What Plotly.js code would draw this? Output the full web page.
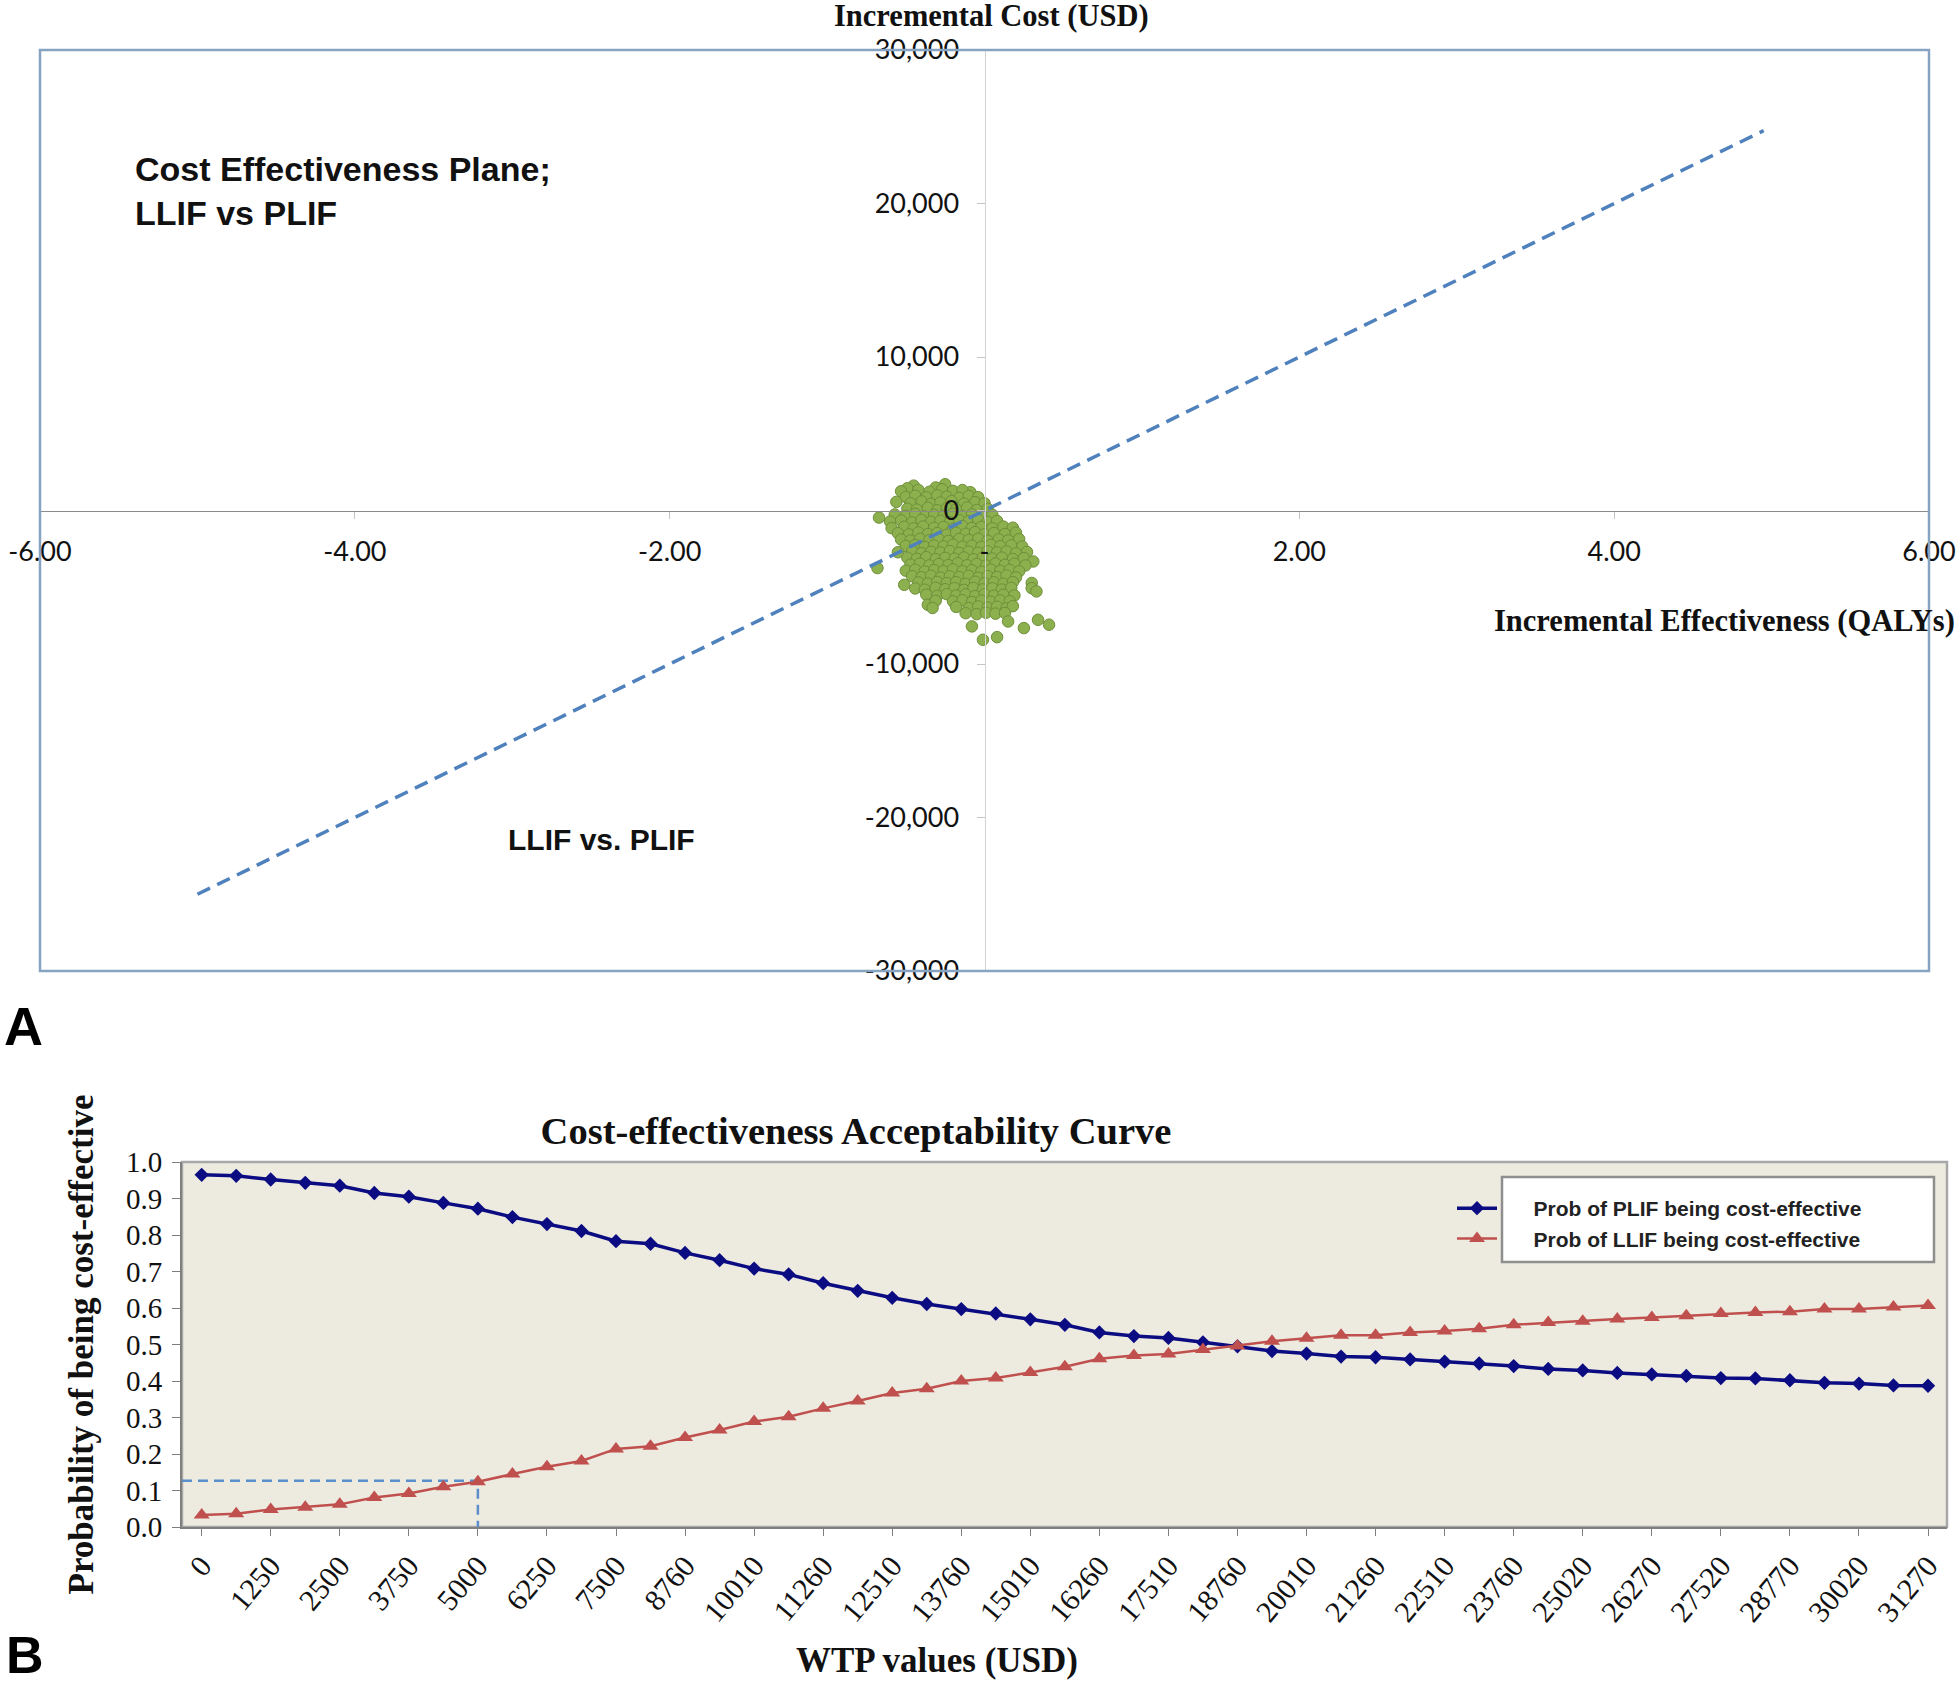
<!DOCTYPE html>
<html>
<head>
<meta charset="utf-8">
<script src="https://cdn.plot.ly/plotly-3.0.1.min.js"></script>
<style>
  html, body { margin: 0; padding: 0; background: #ffffff; }
  #chart { width: 1960px; height: 1688px; }
</style>
</head>
<body>
<div id="chart"></div>
<script>
// ---------------- Panel A: cost-effectiveness plane (PSA simulations) ----------------
const psaDeltaQaly = [
  -0.25, -0.45, -0.49, -0.31,
  -0.53, -0.42, -0.35, -0.27, -0.20, -0.09, -0.14,
  -0.50, -0.44, -0.37, -0.30, -0.24, -0.16, -0.10, -0.04,
  -0.56, -0.47, -0.40, -0.34, -0.28, -0.21, -0.13, -0.06, 0.00,
  -0.49, -0.43, -0.36, -0.30, -0.24, -0.18, -0.11, -0.05, 0.02,
  -0.67, -0.57, -0.50, -0.44, -0.38, -0.32, -0.26, -0.20, -0.14, -0.08, -0.02, 0.05,
  -0.60, -0.53, -0.46, -0.40, -0.34, -0.28, -0.22, -0.16, -0.10, -0.04, 0.02, 0.08,
  -0.59, -0.51, -0.45, -0.39, -0.32, -0.26, -0.20, -0.14, -0.08, -0.02, 0.05, 0.12, 0.18,
  -0.55, -0.48, -0.42, -0.36, -0.30, -0.24, -0.18, -0.12, -0.06, 0.00, 0.06, 0.13, 0.20,
  -0.53, -0.47, -0.41, -0.35, -0.29, -0.23, -0.16, -0.10, -0.04, 0.02, 0.09, 0.15, 0.22,
  -0.50, -0.44, -0.38, -0.32, -0.26, -0.20, -0.14, -0.08, -0.02, 0.04, 0.10, 0.17, 0.24,
  -0.55, -0.46, -0.40, -0.34, -0.28, -0.22, -0.16, -0.10, -0.04, 0.02, 0.08, 0.14, 0.20, 0.27,
  -0.49, -0.43, -0.37, -0.31, -0.25, -0.19, -0.13, -0.07, -0.01, 0.05, 0.11, 0.18, 0.25, 0.31,
  -0.68, -0.47, -0.41, -0.35, -0.29, -0.23, -0.17, -0.11, -0.05, 0.01, 0.07, 0.13, 0.19, 0.26,
  -0.50, -0.44, -0.38, -0.32, -0.26, -0.20, -0.14, -0.08, -0.02, 0.04, 0.10, 0.16, 0.22,
  -0.46, -0.40, -0.34, -0.28, -0.22, -0.16, -0.10, -0.04, 0.02, 0.08, 0.14, 0.20,
  -0.51, -0.42, -0.36, -0.30, -0.24, -0.18, -0.12, -0.06, 0.00, 0.06, 0.12, 0.18, 0.30,
  -0.44, -0.38, -0.31, -0.25, -0.19, -0.13, -0.07, -0.01, 0.05, 0.11, 0.17, 0.30, 0.33,
  -0.37, -0.30, -0.24, -0.18, -0.12, -0.06, 0.00, 0.06, 0.12, 0.19,
  -0.36, -0.31, -0.20, -0.14, -0.08, -0.02, 0.04, 0.10, 0.16,
  -0.33, -0.18, -0.10, -0.04, 0.02, 0.08, 0.14, 0.18,
  -0.12, -0.05, 0.01, 0.07, 0.13,
  -0.08, 0.15, 0.25, 0.34, 0.41, -0.01, 0.08
];
const psaDeltaCost = [
  1710, 1620, 1450, 1500,
  1250, 1340, 1220, 1380, 1280, 1190, 1330,
  880, 960, 850, 990, 900, 820, 940, 870,
  560, 470, 590, 430, 520, 610, 450, 540, 470,
  120, 60, 180, 20, 140, 70, 190, 30, 110,
  -460, -260, -350, -220, -390, -280, -340, -210, -380, -250, -330, -280,
  -720, -650, -780, -620, -730, -670, -760, -640, -700, -610, -750, -680,
  -1150, -1060, -1170, -1040, -1130, -1080, -1190, -1020, -1140, -1070, -1160, -1050, -1120,
  -1480, -1560, -1430, -1540, -1470, -1580, -1450, -1520, -1410, -1550, -1470, -1530, -1440,
  -1890, -1960, -1850, -1930, -1870, -1990, -1860, -1920, -1840, -1970, -1880, -1950, -1860,
  -2310, -2250, -2370, -2280, -2340, -2230, -2360, -2290, -2380, -2240, -2330, -2270, -2350,
  -2720, -2650, -2780, -2690, -2740, -2640, -2770, -2680, -2750, -2660, -2730, -2670, -2790, -2700,
  -3080, -3150, -3040, -3170, -3090, -3140, -3060, -3180, -3050, -3130, -3070, -3160, -3100, -3320,
  -3750, -3520, -3460, -3580, -3490, -3560, -3440, -3570, -3480, -3590, -3450, -3540, -3470, -3580,
  -3920, -3860, -3970, -3880, -3950, -3840, -3960, -3890, -3990, -3850, -3930, -3870, -3960,
  -4280, -4350, -4250, -4370, -4290, -4340, -4260, -4380, -4270, -4330, -4240, -4360,
  -4840, -4690, -4760, -4650, -4730, -4670, -4780, -4640, -4750, -4680, -4770, -4660, -4720,
  -5080, -5160, -5040, -5130, -5060, -5170, -5050, -5140, -5070, -5150, -5040, -5060, -5270,
  -5480, -5560, -5450, -5540, -5470, -5580, -5460, -5550, -5490, -5530,
  -6140, -5880, -5920, -5850, -5960, -5870, -5940, -5860, -5910,
  -6350, -6280, -6360, -6250, -6330, -6270, -6380, -6230,
  -6690, -6750, -6660, -6720, -6680,
  -7550, -7230, -7660, -7120, -7440, -8420, -8250
];
// Willingness-to-pay threshold line on the plane
const thresholdLineQaly = [-5.0, 4.95];
const thresholdLineCost = [-25000, 24750];

const planeXTickVals = [-6, -4, -2, 0, 2, 4, 6];
const planeXTickText = ['-6.00', '-4.00', '-2.00', '-', '2.00', '4.00', '6.00'];
const planeYTickVals = [-30000, -20000, -10000, 0, 10000, 20000, 30000];
const planeYTickText = ['-30,000', '-20,000', '-10,000', '0', '10,000', '20,000', '30,000'];

// ---------------- Panel B: cost-effectiveness acceptability curve ----------------
const wtpValues = [
  '0', '625', '1250', '1875', '2500', '3125', '3750', '4375', '5000', '5625',
  '6250', '6875', '7500', '8130', '8760', '9385', '10010', '10635', '11260', '11885',
  '12510', '13135', '13760', '14385', '15010', '15635', '16260', '16885', '17510', '18135',
  '18760', '19385', '20010', '20635', '21260', '21885', '22510', '23135', '23760', '24390',
  '25020', '25645', '26270', '26895', '27520', '28145', '28770', '29395', '30020', '30645',
  '31270'
];
const plifProb = [
  0.965, 0.962, 0.952, 0.943, 0.935, 0.915, 0.905, 0.888, 0.872, 0.849,
  0.830, 0.811, 0.783, 0.776, 0.751, 0.731, 0.708, 0.692, 0.668, 0.647,
  0.628, 0.611, 0.597, 0.585, 0.569, 0.554, 0.533, 0.523, 0.518, 0.506,
  0.495, 0.482, 0.475, 0.467, 0.465, 0.459, 0.453, 0.448, 0.441, 0.433,
  0.429, 0.422, 0.418, 0.414, 0.408, 0.407, 0.402, 0.395, 0.393, 0.388,
  0.387
];
const llifProb = [
  0.033, 0.036, 0.048, 0.054, 0.062, 0.081, 0.092, 0.110, 0.124, 0.145,
  0.165, 0.181, 0.214, 0.221, 0.245, 0.266, 0.289, 0.302, 0.325, 0.345,
  0.367, 0.379, 0.400, 0.408, 0.423, 0.439, 0.461, 0.470, 0.474, 0.486,
  0.496, 0.509, 0.517, 0.525, 0.525, 0.533, 0.537, 0.543, 0.554, 0.560,
  0.564, 0.570, 0.574, 0.579, 0.585, 0.588, 0.590, 0.597, 0.597, 0.603,
  0.607
];
const seriesNames = ['Prob of PLIF being cost-effective', 'Prob of LLIF being cost-effective'];
const thresholdWtp = '5000';
const thresholdProb = 0.127;

// ---------------- geometry helpers ----------------
const W = 1960, H = 1688;
const fx = p => p / W;
const fy = p => 1 - p / H;

const aX = [fx(40), fx(1929)];
const aY = [fy(971), fy(50)];
const aXRange = [-6, 6];
const aYRange = [-30000, 30000];
const aXPos = aX[0] + (0 - aXRange[0]) / (aXRange[1] - aXRange[0]) * (aX[1] - aX[0]);
const aYPos = aY[0] + (0 - aYRange[0]) / (aYRange[1] - aYRange[0]) * (aY[1] - aY[0]);

const bX = [fx(182), fx(1947)];
const bY = [fy(1527), fy(1162)];
const idx = wtpValues.map((_, i) => i);
const bTickVals = idx.filter(i => i % 2 === 0);
const bTickText = bTickVals.map(i => wtpValues[i]);
const bXRange = [-0.57, 50.55];
const thrIdx = wtpValues.indexOf(thresholdWtp);

const serif = 'Liberation Serif, Times New Roman, serif';
const sans = 'Liberation Sans, Arial, sans-serif';
const calib = 'Lato, Open Sans, sans-serif';
const legendPad = '\u2003\u2002';

const traces = [
  {
    type: 'scatter', mode: 'markers', x: psaDeltaQaly, y: psaDeltaCost,
    xaxis: 'x', yaxis: 'y', showlegend: false, hoverinfo: 'skip',
    marker: { symbol: 'circle', size: 11.5, color: '#8DB04E', line: { color: '#6E8F3A', width: 1 } }
  },
  {
    type: 'scatter', mode: 'lines', x: thresholdLineQaly, y: thresholdLineCost,
    xaxis: 'x', yaxis: 'y', showlegend: false, hoverinfo: 'skip',
    line: { color: '#4F81BD', width: 3.5, dash: '14px,8px' }
  },
  {
    type: 'scatter', mode: 'lines', x: [bXRange[0], thrIdx, thrIdx], y: [thresholdProb, thresholdProb, 0],
    xaxis: 'x2', yaxis: 'y2', showlegend: false, hoverinfo: 'skip',
    line: { color: '#5B8FCB', width: 2.5, dash: '10px,6px' }
  },
  {
    type: 'scatter', mode: 'lines+markers', name: legendPad + seriesNames[0], x: idx, y: plifProb,
    xaxis: 'x2', yaxis: 'y2',
    line: { color: '#0C0C82', width: 3.5 },
    marker: { symbol: 'diamond', size: 11, color: '#0C0C82' }
  },
  {
    type: 'scatter', mode: 'lines+markers', name: legendPad + seriesNames[1], x: idx, y: llifProb,
    xaxis: 'x2', yaxis: 'y2',
    line: { color: '#C0504D', width: 2.5 },
    marker: { symbol: 'triangle-up', size: 14, color: '#C0504D' }
  }
];

const layout = {
  width: W, height: H, autosize: false,
  margin: { l: 0, r: 0, t: 0, b: 0, pad: 0 },
  paper_bgcolor: '#ffffff',
  plot_bgcolor: 'rgba(0,0,0,0)',
  showlegend: true,
  title: {
    text: 'Cost-effectiveness Acceptability Curve',
    x: fx(856), y: fy(1131), xref: 'paper', yref: 'paper',
    xanchor: 'center', yanchor: 'middle',
    font: { family: serif, size: 38.5, weight: 'bold', color: '#111111' }
  },
  xaxis: {
    domain: aX, range: aXRange, anchor: 'free', position: aYPos,
    showgrid: false, zeroline: false, showline: true, linecolor: '#8A8A8A', linewidth: 1.5,
    tickmode: 'array', tickvals: planeXTickVals, ticktext: planeXTickText,
    ticks: 'outside', ticklen: 7, tickcolor: '#C4C4C4', ticklabelstandoff: 10,
    tickfont: { family: calib, size: 27, color: '#111111' }, fixedrange: true
  },
  yaxis: {
    domain: aY, range: aYRange, anchor: 'free', position: aXPos,
    showgrid: false, zeroline: false, showline: true, linecolor: '#D2D2D2', linewidth: 1.5,
    tickmode: 'array', tickvals: planeYTickVals, ticktext: planeYTickText,
    ticks: 'outside', ticklen: 8, tickcolor: '#C4C4C4', ticklabelstandoff: 12,
    tickfont: { family: calib, size: 27, color: '#111111' }, fixedrange: true
  },
  xaxis2: {
    domain: bX, range: bXRange, anchor: 'y2',
    showgrid: false, zeroline: false, showline: true, linecolor: '#7F7F7F', linewidth: 2,
    tickmode: 'array', tickvals: bTickVals, ticktext: bTickText, tickangle: -50,
    ticks: 'outside', ticklen: 7, tickcolor: '#7F7F7F',
    tickfont: { family: serif, size: 30, color: '#111111' },
    fixedrange: true
  },
  yaxis2: {
    domain: bY, range: [0, 1], anchor: 'x2',
    showgrid: false, zeroline: false, showline: true, linecolor: '#7F7F7F', linewidth: 2,
    tickmode: 'linear', tick0: 0, dtick: 0.1, tickformat: '.1f',
    ticks: 'outside', ticklen: 8, tickcolor: '#7F7F7F', ticklabelstandoff: 4,
    tickfont: { family: serif, size: 29, color: '#111111' },
    title: { text: 'Probability of being cost-effective', standoff: 22,
             font: { family: serif, size: 35, weight: 'bold', color: '#111111' } },
    fixedrange: true
  },
  legend: {
    x: fx(1452), y: fy(1188), xanchor: 'left', yanchor: 'top',
    bgcolor: 'rgba(0,0,0,0)', borderwidth: 0, itemwidth: 40, tracegroupgap: 0,
    font: { family: sans, size: 21, weight: 'bold', color: '#222222' }
  },
  shapes: [
    // frame of panel A
    { type: 'rect', xref: 'x domain', yref: 'y domain', x0: 0, x1: 1, y0: 0, y1: 1,
      line: { color: '#86A3C2', width: 2.5 }, fillcolor: 'rgba(0,0,0,0)', layer: 'above' },
    // plot area of panel B
    { type: 'rect', xref: 'x2 domain', yref: 'y2 domain', x0: 0, x1: 1, y0: 0, y1: 1,
      line: { color: '#A8A8A8', width: 2.5 }, fillcolor: '#EDEAE0', layer: 'below' },
    // legend box of panel B
    { type: 'rect', xref: 'paper', yref: 'paper', x0: fx(1502), x1: fx(1934), y0: fy(1262), y1: fy(1177),
      line: { color: '#8E8E8E', width: 2.5 }, fillcolor: '#ffffff', layer: 'above' }
  ],
  annotations: [
    { text: 'Incremental Cost (USD)', xref: 'paper', yref: 'paper', x: fx(991), y: fy(16),
      xanchor: 'center', yanchor: 'middle', showarrow: false,
      font: { family: serif, size: 30.5, weight: 'bold', color: '#111111' } },
    { text: 'Incremental Effectiveness (QALYs)', xref: 'paper', yref: 'paper', x: fx(1957), y: fy(621),
      xanchor: 'right', yanchor: 'middle', showarrow: false,
      font: { family: serif, size: 30.5, weight: 'bold', color: '#111111' } },
    { text: 'Cost Effectiveness Plane;<br>LLIF vs PLIF', xref: 'paper', yref: 'paper', x: fx(133), y: fy(148),
      xanchor: 'left', yanchor: 'top', align: 'left', showarrow: false,
      font: { family: sans, size: 34, weight: 'bold', color: '#111111' } },
    { text: 'LLIF vs. PLIF', xref: 'paper', yref: 'paper', x: fx(601), y: fy(840),
      xanchor: 'center', yanchor: 'middle', showarrow: false,
      font: { family: sans, size: 30, weight: 'bold', color: '#111111' } },
    { text: 'WTP values (USD)', xref: 'paper', yref: 'paper', x: fx(937), y: fy(1660),
      xanchor: 'center', yanchor: 'middle', showarrow: false,
      font: { family: serif, size: 35, weight: 'bold', color: '#111111' } },
    { text: 'A', xref: 'paper', yref: 'paper', x: fx(2), y: fy(1026),
      xanchor: 'left', yanchor: 'middle', showarrow: false,
      font: { family: sans, size: 54, weight: 'bold', color: '#000000' } },
    { text: 'B', xref: 'paper', yref: 'paper', x: fx(4), y: fy(1686),
      xanchor: 'left', yanchor: 'bottom', showarrow: false,
      font: { family: sans, size: 52, weight: 'bold', color: '#000000' } }
  ]
};

Plotly.newPlot('chart', traces, layout, { staticPlot: true, displayModeBar: false });
</script>
</body>
</html>
